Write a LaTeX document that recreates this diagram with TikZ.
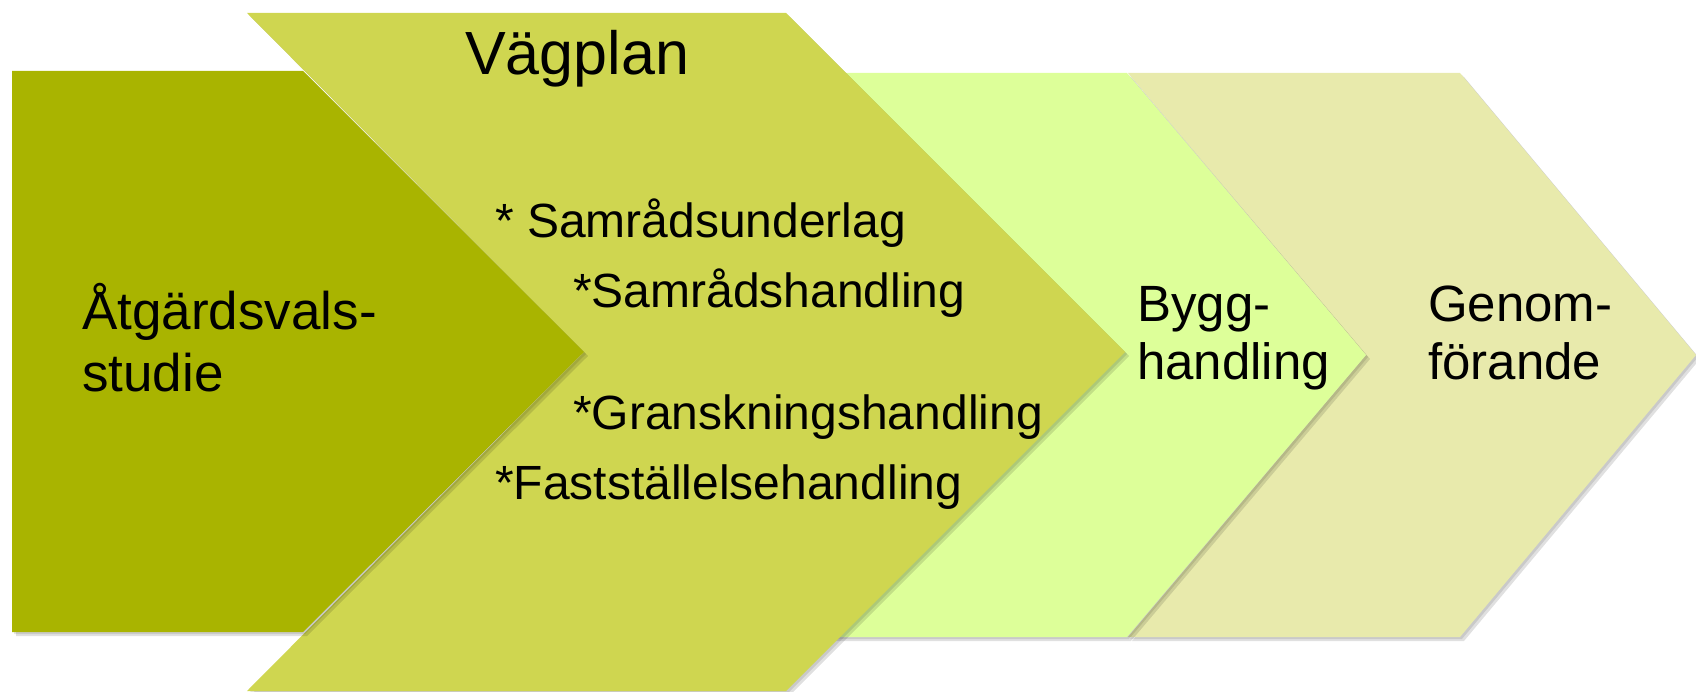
\documentclass[tikz,border=0pt]{standalone}
\usepackage{fontspec}
\setmainfont{Liberation Sans}
\usetikzlibrary{shadows}
\definecolor{cDark}{RGB}{169,180,0}
\definecolor{cPlan}{RGB}{207,214,80}
\definecolor{cLight}{RGB}{221,255,153}
\definecolor{cBeige}{RGB}{232,234,172}
\tikzset{
  softshadow/.style={
    general shadow={fill=black, opacity=0.10, shadow xshift=2pt, shadow yshift=-2pt},
    general shadow={fill=black, opacity=0.12, shadow xshift=4pt, shadow yshift=-4pt}},
  lbl/.style={anchor=base west, inner sep=0pt, text=black},
}
\begin{document}
\begin{tikzpicture}[x=1pt,y=-1pt]
\useasboundingbox (0,0) rectangle (1696,692);
% Genomförande (beige)
\fill[cBeige, softshadow] (1128,73) -- (1460,73) -- (1696,355) -- (1460,637) -- (1128,637) -- (1366,355) -- cycle;
% Bygghandling (light green)
\fill[cLight, softshadow] (800,73) -- (1127,73) -- (1366,355) -- (1127,637) -- (800,637) -- cycle;
% Vägplan
\fill[cPlan, softshadow] (247,13) -- (786,13) -- (1125,352) -- (786,691) -- (247,691) -- (584,352) -- cycle;
% Åtgärdsvalsstudie
\fill[cDark, softshadow] (12,71) -- (303,71) -- (584,352) -- (303,632) -- (12,632) -- cycle;

\node[lbl, font=\fontsize{53}{62}\selectfont] (avs) at (82,330)
  {\begin{tabular}[t]{@{}l@{}}Åtgärdsvals-\\studie\end{tabular}};
\node[lbl, font=\fontsize{61}{70}\selectfont] (vp) at (465,75) {Vägplan};
\node[lbl, font=\fontsize{48}{70}\selectfont] (list) at (495,238)
  {\begin{tabular}[t]{@{}l@{}}* Samrådsunderlag\\
   \hspace{78pt}*Samrådshandling\\[52pt]
   \hspace{78pt}*Granskningshandling\\
   {*}Fastställelsehandling\end{tabular}};
\node[lbl, font=\fontsize{51}{58}\selectfont] (bh) at (1137,322)
  {\begin{tabular}[t]{@{}l@{}}Bygg-\\handling\end{tabular}};
\node[lbl, font=\fontsize{51}{58}\selectfont] (gf) at (1428,322)
  {\begin{tabular}[t]{@{}l@{}}Genom-\\förande\end{tabular}};
\end{tikzpicture}
\end{document}
